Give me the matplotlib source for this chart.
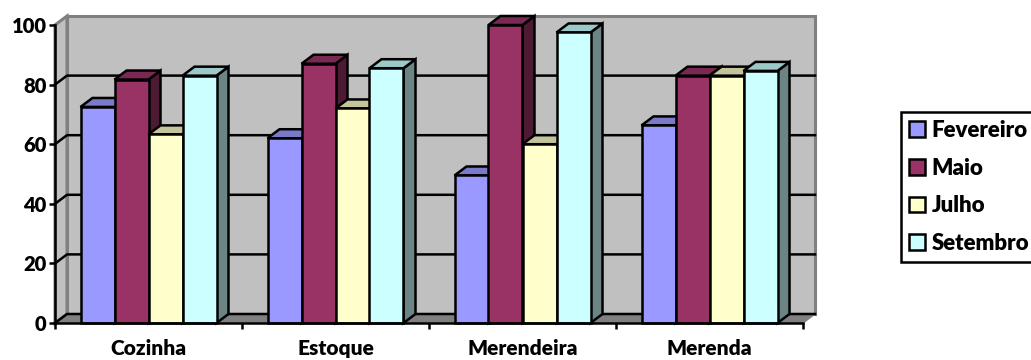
import matplotlib.pyplot as plt
from matplotlib.patches import Patch, Polygon

plt.rcParams["font.family"] = ["Lato", "DejaVu Sans"]
plt.rcParams["font.weight"] = "heavy"

categories = ["Cozinha", "Estoque", "Merendeira", "Merenda"]
series_names = ["Fevereiro", "Maio", "Julho", "Setembro"]
fevereiro = [72.5, 62, 49.5, 66.3]
maio = [81.7, 87, 100, 83]
julho = [63.3, 72, 60, 83]
setembro = [83, 85.5, 97.5, 84.6]
y_ticks = [0, 20, 40, 60, 80, 100]

series = [fevereiro, maio, julho, setembro]
front = ["#9999ff", "#993366", "#ffffcc", "#ccffff"]
top = ["#7a7ac8", "#7a2952", "#c4c49c", "#9cc8c8"]
side = ["#5c5c99", "#4d1a33", "#99997a", "#6b8585"]

W, H = 1031, 360
fig = plt.figure(figsize=(W / 100, H / 100), dpi=100)
# plot box in pixels: x 55-803, y 323-25
ax = fig.add_axes([55 / W, 1 - 323 / H, 748 / W, 298 / H])
ax.set_xlim(0, 4)
ax.set_ylim(0, 100)

# depth of the fake 3d box
dx = 12 / 187
dy = 9 / 2.98
bar_w = 1 / 5.5
lw = 1.8

wall = "#c0c0c0"
edge = "#808080"
ax.add_patch(Polygon([(dx, dy), (4 + dx, dy), (4 + dx, 100 + dy), (dx, 100 + dy)],
                     fc=wall, ec=edge, lw=2.2, clip_on=False, zorder=1))
ax.add_patch(Polygon([(0, 0), (dx, dy), (dx, 100 + dy), (0, 100)],
                     fc=wall, ec=edge, lw=2.2, clip_on=False, zorder=1))
ax.add_patch(Polygon([(0, 0), (4, 0), (4 + dx, dy), (dx, dy)],
                     fc=edge, ec=edge, lw=1, clip_on=False, zorder=1))

for v in y_ticks[:-1]:
    ax.plot([0, dx, 4 + dx], [v, v + dy, v + dy], color="black", lw=lw,
            clip_on=False, zorder=2)

z = 3
for c in range(len(categories)):
    for s in range(len(series)):
        val = series[s][c]
        x0 = c + 0.75 * bar_w + s * bar_w
        x1 = x0 + bar_w
        ax.add_patch(Polygon([(x1, 0), (x1 + dx, dy), (x1 + dx, val + dy), (x1, val)],
                             fc=side[s], ec="black", lw=lw, clip_on=False, zorder=z))
        ax.add_patch(Polygon([(x0, val), (x1, val), (x1 + dx, val + dy), (x0 + dx, val + dy)],
                             fc=top[s], ec="black", lw=lw, clip_on=False, zorder=z))
        ax.bar(x0, val, width=bar_w, align="edge", color=front[s], edgecolor="black",
               linewidth=lw, clip_on=False, zorder=z)
        z += 1

for name in ["top", "right"]:
    ax.spines[name].set_visible(False)
for name in ["left", "bottom"]:
    ax.spines[name].set_linewidth(lw)
    ax.spines[name].set_zorder(100)

ax.set_yticks(y_ticks)
ax.set_xticks(range(5))
ax.set_xticklabels([])
ax.set_xticks([0.5, 1.5, 2.5, 3.5], minor=True)
ax.set_xticklabels(categories, minor=True)
ax.tick_params(axis="y", length=4, width=lw, labelsize=14.5, pad=2)
ax.tick_params(axis="x", which="major", length=4, width=lw)
ax.tick_params(axis="x", which="minor", length=0, labelsize=15, pad=11.5)

handles = [Patch(fc=front[i], ec="black", lw=lw) for i in range(4)]
fig.legend(handles, series_names, loc="upper right", bbox_to_anchor=(1037 / W, 1 - 112 / H),
           fontsize=16, frameon=True, fancybox=False, edgecolor="black", framealpha=1,
           handlelength=0.72, handleheight=0.72, handletextpad=0.27, labelspacing=0.75,
           borderpad=0.36, borderaxespad=0).get_frame().set_linewidth(lw)

fig.savefig("out.png", dpi=100)
